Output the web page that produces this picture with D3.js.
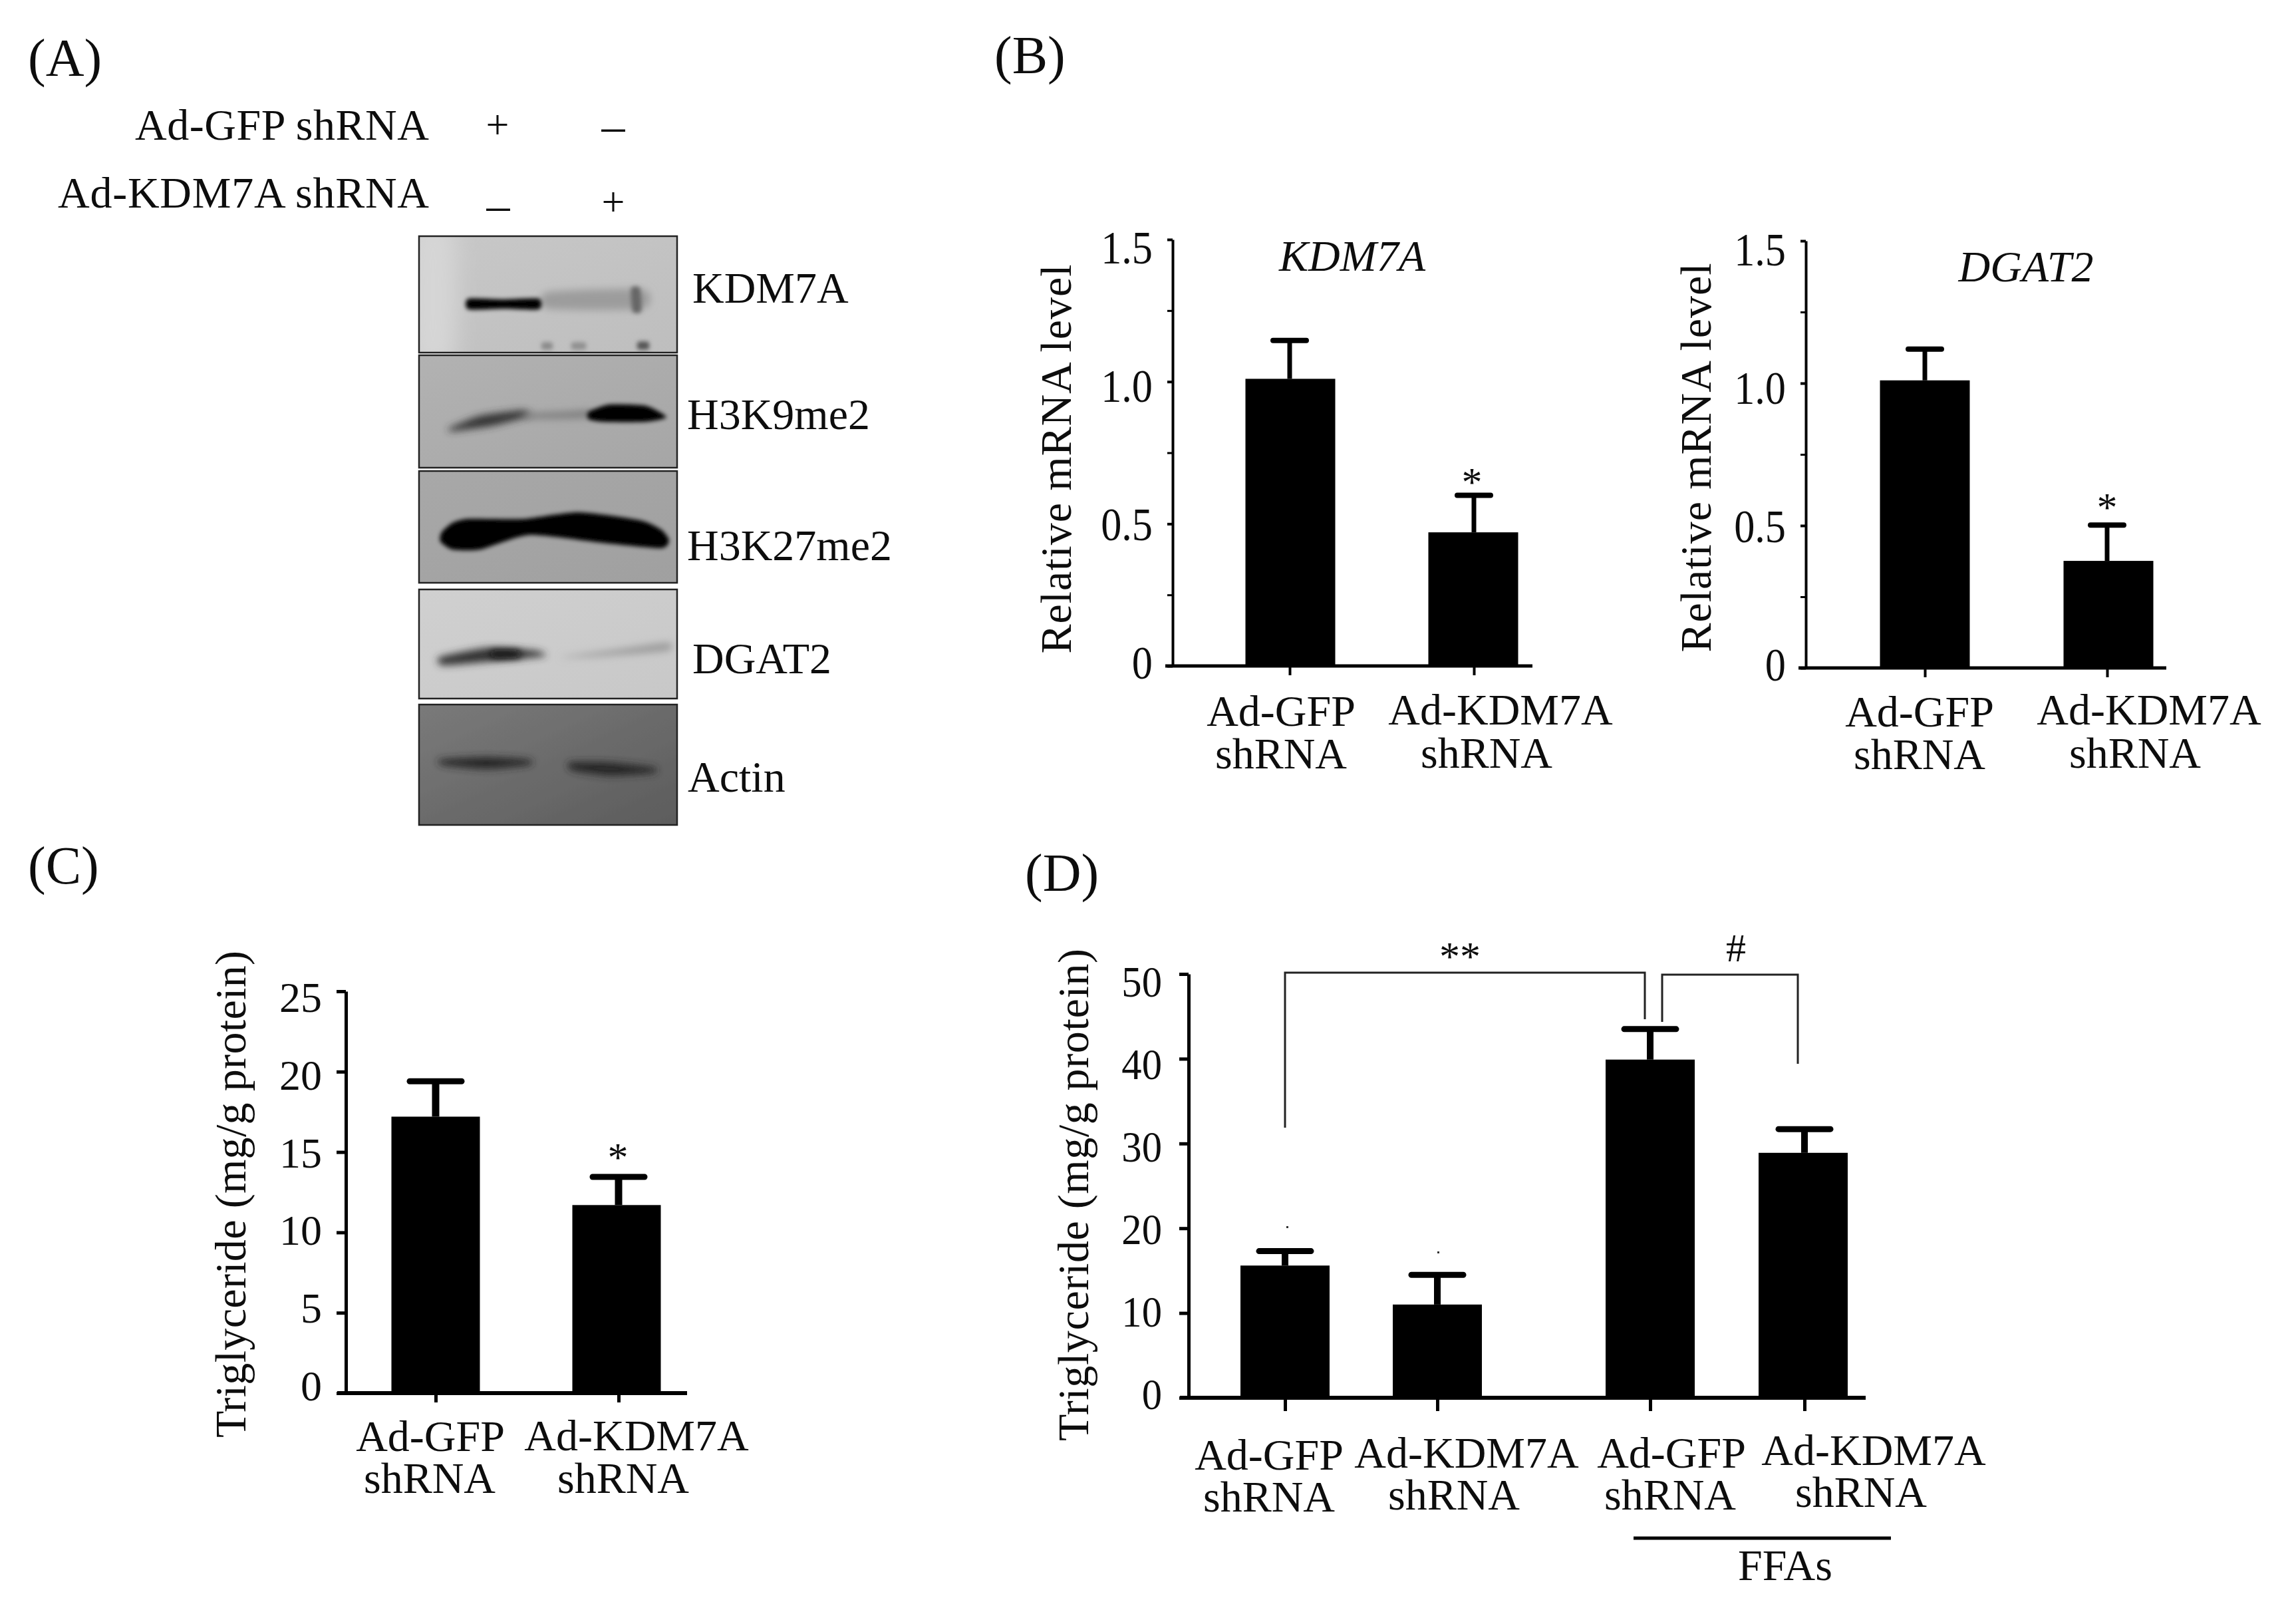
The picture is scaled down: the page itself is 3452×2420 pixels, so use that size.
<!DOCTYPE html>
<html>
<head>
<meta charset="utf-8">
<script src="https://cdn.jsdelivr.net/npm/d3@7"></script>
<style>
  html, body { margin: 0; background: #fff; }
  text { font-family: "Liberation Serif", serif; fill: #111; }
</style>
</head>
<body>
<div id="chart"></div>
<script>
// values
var geneCategories = ["Ad-GFP shRNA", "Ad-KDM7A shRNA"];
var kdm7aMeans = [1.01, 0.47];
var kdm7aErrors = [0.135, 0.13];
var dgat2Means = [1.01, 0.376];
var dgat2Errors = [0.11, 0.126];
var mrnaTicks = [0, 0.5, 1, 1.5];
var mrnaMinorTicks = [0.25, 0.75, 1.25];
var mrnaTickLabels = ["0", "0.5", "1.0", "1.5"];

var tgCategories = ["Ad-GFP shRNA", "Ad-KDM7A shRNA"];
var tgMeans = [17.2, 11.7];
var tgErrors = [2.2, 1.75];
var tgTicks = [0, 5, 10, 15, 20, 25];

var ffaCategories = ["Ad-GFP shRNA", "Ad-KDM7A shRNA", "FFAs Ad-GFP shRNA", "FFAs Ad-KDM7A shRNA"];
var ffaMeans = [15.6, 11, 39.9, 28.9];
var ffaErrors = [1.7, 3.5, 3.6, 2.8];
var ffaTicks = [0, 10, 20, 30, 40, 50];

var blotNames = ["KDM7A", "H3K9me2", "H3K27me2", "DGAT2", "Actin"];

var svg = d3.select("#chart").append("svg")
  .attr("width", 3452)
  .attr("height", 2420)
  .style("display", "block");

var defs = svg.append("defs");

// the whole source figure is a little soft
defs.append("filter").attr("id", "soft")
  .append("feGaussianBlur").attr("stdDeviation", 0.7);

[3, 6, 9, 16].forEach(function (s) {
  defs.append("filter").attr("id", "blur" + s)
    .attr("x", "-40%").attr("y", "-150%").attr("width", "180%").attr("height", "400%")
    .append("feGaussianBlur").attr("stdDeviation", s);
});

var root = svg.append("g").attr("filter", "url(#soft)");

function label(g, txt, x, y, size, anchor, italic) {
  return g.append("text")
    .attr("x", x).attr("y", y)
    .attr("font-size", size)
    .attr("text-anchor", anchor || "start")
    .attr("font-style", italic ? "italic" : null)
    .text(txt);
}

function yLabel(g, txt, x, yMid, size, len) {
  g.append("text")
    .attr("transform", `translate(${x}, ${yMid}) rotate(-90)`)
    .attr("font-size", size)
    .attr("text-anchor", "middle")
    .attr("textLength", len)
    .attr("lengthAdjust", "spacing")
    .text(txt);
}

// panel letters
label(root, "(A)", 42, 114, 80);
label(root, "(B)", 1495, 110, 80);
label(root, "(C)", 42, 1328, 80);
label(root, "(D)", 1541, 1339, 80);

// ---- panel A, western blot ----
var panelA = root.append("g");
label(panelA, "Ad-GFP shRNA", 645, 210, 66, "end").attr("textLength", 442);
label(panelA, "Ad-KDM7A shRNA", 645, 312, 66, "end").attr("textLength", 558);
label(panelA, "+", 748, 208, 62, "middle");
label(panelA, "\u2013", 922, 213, 70, "middle");
label(panelA, "\u2013", 749, 332, 70, "middle");
label(panelA, "+", 922, 324, 62, "middle");

var blotRows = [
  { top: 355, bottom: 530, labelX: 1041, labelY: 455, bg: ["#c8c8c8", "#bebebe"] },
  { top: 534, bottom: 703, labelX: 1033, labelY: 645, bg: ["#b2b2b2", "#a6a6a6"] },
  { top: 708, bottom: 876, labelX: 1033, labelY: 842, bg: ["#a8a8a8", "#a0a0a0"] },
  { top: 886, bottom: 1050, labelX: 1041, labelY: 1012, bg: ["#d0d0d0", "#c8c8c8"] },
  { top: 1059, bottom: 1240, labelX: 1034, labelY: 1190, bg: ["#7a7a7a", "#5c5c5c"] }
];

// smudges on each membrane: row, outline, shade, blur
var blotBands = [
  [0, [[620, 345], [682, 345], [682, 540], [620, 540]], "#d6d6d6", 16],
  [0, [[823, 439], [967, 435], [967, 464], [823, 464]], "#9c9c9c", 6],
  [0, [[949, 433], [962, 433], [964, 468], [951, 468]], "#666", 3],
  [0, [[704, 449], [756, 450], [810, 449], [810, 465], [756, 464], [704, 465]], "#000", 3],
  [0, [[815, 515], [830, 515], [830, 525], [815, 525]], "#8a8a8a", 3],
  [0, [[860, 515], [880, 515], [880, 525], [860, 525]], "#909090", 3],
  [0, [[959, 514], [975, 514], [975, 525], [959, 525]], "#555", 3],
  [1, [[675, 644], [722, 625], [786, 617], [796, 625], [740, 640], [680, 648]], "#333", 6],
  [1, [[790, 622], [850, 619], [890, 617], [890, 627], [850, 629], [790, 629]], "#7c7c7c", 6],
  [1, [[885, 619], [916, 608], [971, 610], [1002, 627], [971, 634], [907, 634], [885, 630]], "#000", 3],
  [2, [[664, 800], [680, 786], [703, 780], [786, 780], [870, 770], [962, 782], [994, 796], [1006, 812], [994, 824], [907, 816], [796, 804], [722, 826], [680, 826], [662, 814]], "#000", 3],
  [3, [[661, 988], [731, 974], [805, 978], [819, 986], [740, 994], [666, 1000]], "#333", 6],
  [3, [[740, 978], [780, 978], [780, 988], [740, 988]], "#111", 6],
  [3, [[842, 988], [916, 978], [1004, 966], [1004, 978], [907, 986]], "#9a9a9a", 6],
  [4, [[661, 1142], [731, 1138], [796, 1142], [796, 1150], [731, 1156], [666, 1150]], "#262626", 6],
  [4, [[856, 1146], [916, 1146], [985, 1154], [981, 1162], [916, 1166], [860, 1158]], "#262626", 6]
];

var bandOutline = d3.line().curve(d3.curveCardinalClosed.tension(0.4));

blotRows.forEach(function (row, i) {
  var grad = defs.append("linearGradient").attr("id", "bg" + i)
    .attr("x1", 0).attr("y1", 0).attr("x2", 1).attr("y2", 1);
  grad.append("stop").attr("offset", 0).attr("stop-color", row.bg[0]);
  grad.append("stop").attr("offset", 1).attr("stop-color", row.bg[1]);

  defs.append("clipPath").attr("id", "clip" + i)
    .append("rect").attr("x", 630).attr("y", row.top)
    .attr("width", 388).attr("height", row.bottom - row.top);

  var g = panelA.append("g").attr("clip-path", `url(#clip${i})`);
  g.append("rect").attr("x", 630).attr("y", row.top)
    .attr("width", 388).attr("height", row.bottom - row.top)
    .attr("fill", `url(#bg${i})`);

  g.selectAll("path")
    .data(blotBands.filter(function (b) { return b[0] === i; }))
    .enter()
    .append("path")
    .attr("d", function (b) { return bandOutline(b[1]); })
    .attr("fill", function (b) { return b[2]; })
    .attr("filter", function (b) { return `url(#blur${b[3]})`; });

  panelA.append("rect").attr("x", 630).attr("y", row.top)
    .attr("width", 388).attr("height", row.bottom - row.top)
    .attr("fill", "none").attr("stroke", "#222").attr("stroke-width", 2.5);

  label(panelA, blotNames[i], row.labelX, row.labelY, 66);
});

// ---- bar panels ----
function barPanel(p) {
  var g = root.append("g");

  var y = d3.scaleLinear().domain(p.domain).range([p.y0, p.yTop]);
  var x = d3.scaleOrdinal().domain(p.categories).range(p.centers);
  // the labels drift a bit from their ticks in the original
  var yText = d3.scaleLinear().domain(p.domain).range(p.labelRange);
  var squeeze = p.tickSqueeze || 1;

  var yAxis = d3.axisLeft(y)
    .tickValues(p.ticks)
    .tickSizeInner(p.tickLen)
    .tickSizeOuter(0)
    .tickPadding(p.tickPad)
    .tickFormat(function (d, i) { return p.tickLabels ? p.tickLabels[i] : d; });

  var yG = g.append("g").attr("transform", `translate(${p.x0}, 0)`).call(yAxis);
  yG.select(".domain").attr("stroke", "#000").attr("stroke-width", p.axisWidth);
  yG.selectAll(".tick line").attr("stroke", "#000").attr("stroke-width", p.axisWidth);
  yG.selectAll(".tick text")
    .attr("x", -(p.tickLen + p.tickPad) / squeeze)
    .attr("y", function (d) { return yText(d) - y(d); })
    .attr("transform", `scale(${squeeze}, 1)`)
    .attr("fill", "#111")
    .style("font-family", '"Liberation Serif", serif')
    .style("font-size", p.tickSize + "px");

  if (p.minorTicks) {
    var minor = g.append("g").attr("transform", `translate(${p.x0}, 0)`)
      .call(d3.axisLeft(y).tickValues(p.minorTicks).tickSize(8).tickFormat(""));
    minor.select(".domain").remove();
    minor.selectAll("line").attr("stroke", "#000").attr("stroke-width", 3);
  }

  var cats = p.categories.map(function (c, i) {
    return { cat: c, mean: p.means[i], err: p.errors[i], i: i };
  });

  g.selectAll(".bar")
    .data(cats)
    .enter()
    .append("rect")
    .attr("class", "bar")
    .attr("x", function (d) { return x(d.cat) + p.barShift[d.i] - p.barWidth / 2; })
    .attr("y", function (d) { return y(d.mean); })
    .attr("width", p.barWidth)
    .attr("height", function (d) { return p.y0 - y(d.mean); })
    .attr("fill", "#000");

  g.selectAll(".stem")
    .data(cats)
    .enter()
    .append("line")
    .attr("class", "stem")
    .attr("x1", function (d) { return x(d.cat); })
    .attr("x2", function (d) { return x(d.cat); })
    .attr("y1", function (d) { return y(d.mean); })
    .attr("y2", function (d) { return y(d.mean + d.err); })
    .attr("stroke", "#000")
    .attr("stroke-width", p.stemWidth);

  g.selectAll(".cap")
    .data(cats)
    .enter()
    .append("line")
    .attr("class", "cap")
    .attr("x1", function (d) { return x(d.cat) - p.capWidth / 2; })
    .attr("x2", function (d) { return x(d.cat) + p.capWidth / 2; })
    .attr("y1", function (d) { return y(d.mean + d.err); })
    .attr("y2", function (d) { return y(d.mean + d.err); })
    .attr("stroke", "#000")
    .attr("stroke-width", p.capThick)
    .attr("stroke-linecap", "round");

  var xAxis = d3.axisBottom(x).tickValues(p.categories).tickSizeOuter(0)
    .tickSizeInner(p.xTickLen).tickFormat("");
  var xG = g.append("g").attr("transform", `translate(0, ${p.y0})`).call(xAxis);
  xG.select(".domain").remove();
  xG.selectAll("line").attr("stroke", "#000").attr("stroke-width", p.axisWidth);
  xG.append("line")
    .attr("x1", p.xStart).attr("x2", p.xEnd)
    .attr("stroke", "#000").attr("stroke-width", p.axisWidth + 1);

  // two-line category labels sit by hand under each bar
  p.xLabels.forEach(function (l) {
    label(g, l[0], l[1], l[2], 66, "middle");
    label(g, l[3], l[4], l[5], 66, "middle");
  });

  yLabel(g, p.yTitle, p.yTitleX, p.yTitleMid, 66, p.yTitleLen);
  return g;
}

var sharedMrna = {
  domain: [0, 1.5],
  ticks: mrnaTicks,
  minorTicks: mrnaMinorTicks,
  tickLabels: mrnaTickLabels,
  tickLen: 8,
  tickPad: 22,
  tickSize: 70,
  tickSqueeze: 0.89,
  axisWidth: 4,
  barWidth: 135,
  stemWidth: 7,
  capWidth: 50,
  capThick: 8,
  xTickLen: 14,
  yTitle: "Relative mRNA  level"
};

var b1 = barPanel(Object.assign({}, sharedMrna, {
  categories: geneCategories,
  means: kdm7aMeans,
  errors: kdm7aErrors,
  x0: 1763, y0: 1001, yTop: 360,
  labelRange: [997, 373],
  centers: [1939, 2216],
  barShift: [1, -1],
  xStart: 1752, xEnd: 2304,
  xLabels: [
    ["Ad-GFP", 1926, 1091, "shRNA", 1926, 1155],
    ["Ad-KDM7A", 2256, 1089, "shRNA", 2235, 1154]
  ],
  yTitleX: 1610, yTitleMid: 690, yTitleLen: 585
}));
label(b1, "KDM7A", 2033, 407, 66, "middle", true);
label(b1, "*", 2213, 745, 62, "middle");

var b2 = barPanel(Object.assign({}, sharedMrna, {
  categories: geneCategories,
  means: dgat2Means,
  errors: dgat2Errors,
  x0: 2715, y0: 1004, yTop: 362,
  labelRange: [1000, 376],
  centers: [2894, 3168],
  barShift: [0, 2],
  xStart: 2704, xEnd: 3257,
  xLabels: [
    ["Ad-GFP", 2886, 1092, "shRNA", 2886, 1156],
    ["Ad-KDM7A", 3231, 1089, "shRNA", 3210, 1154]
  ],
  yTitleX: 2572, yTitleMid: 688, yTitleLen: 585
}));
label(b2, "DGAT2", 3046, 423, 66, "middle", true);
label(b2, "*", 3168, 783, 62, "middle");

var c = barPanel({
  categories: tgCategories,
  means: tgMeans,
  errors: tgErrors,
  domain: [0, 25],
  ticks: tgTicks,
  tickLen: 14,
  tickPad: 22,
  tickSize: 64,
  axisWidth: 5,
  x0: 520, y0: 2094, yTop: 1490,
  labelRange: [2084, 1500],
  centers: [655, 930],
  barShift: [0, -3],
  barWidth: 133,
  stemWidth: 11,
  capWidth: 78,
  capThick: 9,
  xTickLen: 14,
  xStart: 507, xEnd: 1033,
  xLabels: [
    ["Ad-GFP", 647, 2181, "shRNA", 646, 2244],
    ["Ad-KDM7A", 957, 2180, "shRNA", 937, 2244]
  ],
  yTitle: "Triglyceride (mg/g protein)",
  yTitleX: 369, yTitleMid: 1795, yTitleLen: 732
});
label(c, "*", 929, 1760, 62, "middle");

var d = barPanel({
  categories: ffaCategories,
  means: ffaMeans,
  errors: ffaErrors,
  domain: [0, 50],
  ticks: ffaTicks,
  tickLen: 14,
  tickPad: 26,
  tickSize: 66,
  tickSqueeze: 0.92,
  axisWidth: 5,
  x0: 1787, y0: 2101, yTop: 1464,
  labelRange: [2096, 1476],
  centers: [1932, 2161, 2481, 2713],
  barShift: [0, 0, 0, -2],
  barWidth: 134,
  stemWidth: 10,
  capWidth: 78,
  capThick: 9,
  xTickLen: 20,
  xStart: 1774, xEnd: 2805,
  xLabels: [
    ["Ad-GFP", 1908, 2209, "shRNA", 1908, 2272],
    ["Ad-KDM7A", 2205, 2206, "shRNA", 2186, 2269],
    ["Ad-GFP", 2513, 2206, "shRNA", 2511, 2269],
    ["Ad-KDM7A", 2817, 2202, "shRNA", 2798, 2265]
  ],
  yTitle: "Triglyceride (mg/g protein)",
  yTitleX: 1636, yTitleMid: 1796, yTitleLen: 740
});

// significance brackets
var bracket = d3.line();
[
  [[1932, 1695], [1932, 1462], [2473, 1462], [2473, 1532]],
  [[2499, 1536], [2499, 1465], [2703, 1465], [2703, 1599]]
].forEach(function (pts) {
  d.append("path").attr("d", bracket(pts))
    .attr("fill", "none").attr("stroke", "#222").attr("stroke-width", 3);
});
label(d, "**", 2195, 1458, 62, "middle");
label(d, "#", 2610, 1445, 60, "middle");
d.append("line").attr("x1", 2456).attr("x2", 2843)
  .attr("y1", 2312).attr("y2", 2312)
  .attr("stroke", "#000").attr("stroke-width", 5);
label(d, "FFAs", 2684, 2375, 66, "middle");

// two stray specks above the first bars
d.selectAll(".speck")
  .data(ffaCategories.slice(0, 2))
  .enter()
  .append("rect")
  .attr("class", "speck")
  .attr("x", function (cat, i) { return i === 0 ? 1934 : 2161; })
  .attr("y", function (cat, i) { return i === 0 ? 1843 : 1881; })
  .attr("width", 3)
  .attr("height", 3)
  .attr("fill", "#333");
</script>
</body>
</html>
